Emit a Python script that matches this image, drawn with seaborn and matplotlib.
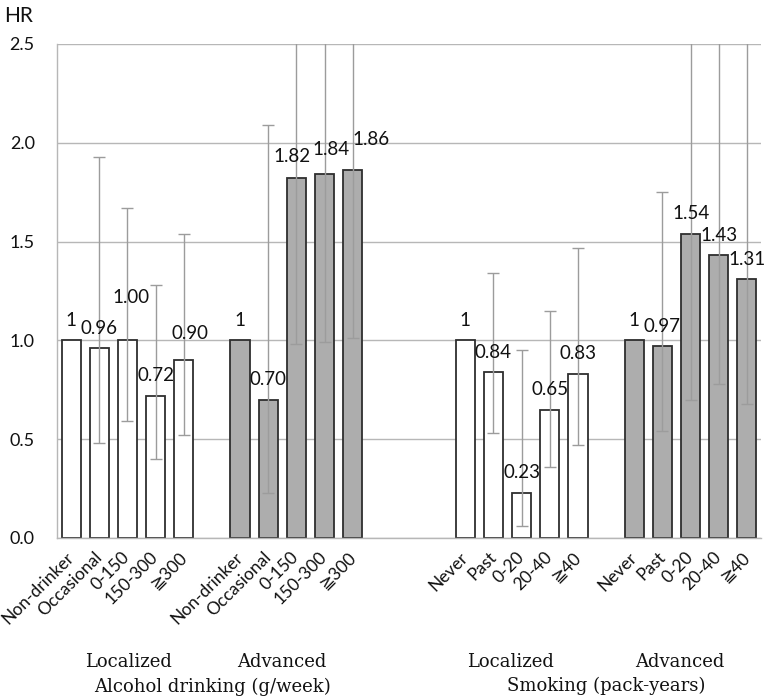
import numpy as np
import pandas as pd
import matplotlib
matplotlib.use("Agg")
import matplotlib.pyplot as plt
import seaborn as sns

# ---------------- data ----------------
alcohol_cats = ["Non-drinker", "Occasional", "0-150", "150-300", "≧300"]
smoking_cats = ["Never", "Past", "0-20", "20-40", "≧40"]

alc_loc_hr = [1.00, 0.96, 1.00, 0.72, 0.90]
alc_loc_lo = [np.nan, 0.48, 0.59, 0.40, 0.52]
alc_loc_hi = [np.nan, 1.93, 1.67, 1.28, 1.54]
alc_loc_txt = ["1", "0.96", "1.00", "0.72", "0.90"]

alc_adv_hr = [1.00, 0.70, 1.82, 1.84, 1.86]
alc_adv_lo = [np.nan, 0.23, 0.98, 0.99, 1.01]
alc_adv_hi = [np.nan, 2.09, 3.38, 3.42, 3.43]
alc_adv_txt = ["1", "0.70", "1.82", "1.84", "1.86"]

smk_loc_hr = [1.00, 0.84, 0.23, 0.65, 0.83]
smk_loc_lo = [np.nan, 0.53, 0.06, 0.36, 0.47]
smk_loc_hi = [np.nan, 1.34, 0.95, 1.15, 1.47]
smk_loc_txt = ["1", "0.84", "0.23", "0.65", "0.83"]

smk_adv_hr = [1.00, 0.97, 1.54, 1.43, 1.31]
smk_adv_lo = [np.nan, 0.54, 0.70, 0.78, 0.68]
smk_adv_hi = [np.nan, 1.75, 3.39, 2.62, 2.52]
smk_adv_txt = ["1", "0.97", "1.54", "1.43", "1.31"]

y_ticks = [0.0, 0.5, 1.0, 1.5, 2.0, 2.5]
y_tick_labels = ["0.0", "0.5", "1.0", "1.5", "2.0", "2.5"]

# ---------------- build table ----------------
groups = [
    ("Alcohol", "Localized", alcohol_cats, alc_loc_hr, alc_loc_lo, alc_loc_hi, alc_loc_txt),
    ("Alcohol", "Advanced", alcohol_cats, alc_adv_hr, alc_adv_lo, alc_adv_hi, alc_adv_txt),
    ("Smoking", "Localized", smoking_cats, smk_loc_hr, smk_loc_lo, smk_loc_hi, smk_loc_txt),
    ("Smoking", "Advanced", smoking_cats, smk_adv_hr, smk_adv_lo, smk_adv_hi, smk_adv_txt),
]
gaps_after = [1, 3, 1, 0]  # empty category slots after each group

rows = []
order = []
tick_labels = []
gap_id = 0
for (expo, stage, cats, hr, lo, hi, txt), ngap in zip(groups, gaps_after):
    for c, h, l, u, t in zip(cats, hr, lo, hi, txt):
        key = f"{expo}|{stage}|{c}"
        rows.append(dict(key=key, stage=stage, cat=c, hr=h, lo=l, hi=u, txt=t))
        order.append(key)
        tick_labels.append(c)
    for _ in range(ngap):
        order.append(f"gap{gap_id}")
        tick_labels.append("")
        gap_id += 1
df = pd.DataFrame(rows)
df["pos"] = [order.index(k) for k in df["key"]]

# ---------------- style ----------------
sns.set_style("white")
plt.rcParams["font.family"] = ["Lato", "DejaVu Sans"]
GRID = "#b7b7b7"
TXT = "#111111"

fig = plt.figure(figsize=(7.79, 6.97), dpi=100)
ax = fig.add_axes([57 / 779, 1 - 538 / 697, (761 - 57) / 779, (538 - 44) / 697])

sns.barplot(
    data=df, x="key", y="hr", hue="stage", order=order,
    palette={"Localized": "#ffffff", "Advanced": "#adadad"},
    dodge=False, width=0.68, saturation=1, errorbar=None, legend=False,
    edgecolor="#2e2e2e", linewidth=1.3, ax=ax, zorder=2,
)

# confidence intervals
ax.errorbar(
    df["pos"], df["hr"],
    yerr=[df["hr"] - df["lo"], df["hi"] - df["hr"]],
    fmt="none", ecolor="#9c9c9c", elinewidth=1.0, capsize=4.5, capthick=1.0,
    zorder=3,
)

# value labels (default 20 px above bar top; a few were moved by hand in the original)
label_shift_px = {
    "Alcohol|Localized|0-150": (4, 23),
    "Alcohol|Localized|≧300": (6, 7),
    "Alcohol|Advanced|0-150": (-4, 2),
    "Alcohol|Advanced|150-300": (6, 5),
    "Alcohol|Advanced|≧300": (18, 11),
}
for _, r in df.iterrows():
    dx, dy = label_shift_px.get(r["key"], (0, 0))
    ax.annotate(
        r["txt"], (r["pos"], r["hr"]),
        xytext=(dx * 0.72, (20 + dy) * 0.72), textcoords="offset points",
        ha="center", va="center", fontsize=13.5, color=TXT, zorder=4,
    )

# axes cosmetics
ax.set_ylim(0, 2.5)
ax.set_xlim(-0.5, len(order) - 0.5)
ax.set_yticks(y_ticks)
ax.set_yticklabels(y_tick_labels)
ax.yaxis.grid(True, color=GRID, linewidth=1.0)
ax.set_axisbelow(True)
ax.set_xlabel("")
ax.set_ylabel("")
for s in ["top", "right"]:
    ax.spines[s].set_visible(False)
for s in ["left", "bottom"]:
    ax.spines[s].set_color(GRID)
    ax.spines[s].set_linewidth(1.0)

ax.tick_params(axis="y", length=0, pad=16, labelsize=13, labelcolor=TXT)
ax.set_xticks(range(len(order)))
ax.set_xticklabels(tick_labels, rotation=45, ha="right", va="center",
                   rotation_mode="anchor", fontsize=12.5, color=TXT)
ax.tick_params(axis="x", which="major", length=0, pad=12)
ax.set_xticks(np.arange(-0.5, len(order), 1.0), minor=True)
ax.tick_params(axis="x", which="minor", length=6, width=1.0, color=GRID, direction="out")

# titles
fig.text(4 / 779, 1 - 16 / 697, "HR", fontsize=15, ha="left", va="center", color=TXT)
serif = dict(family="DejaVu Serif", fontsize=13, ha="center", va="center", color=TXT)
fig.text(128 / 779, 1 - 662 / 697, "Localized", **serif)
fig.text(282 / 779, 1 - 662 / 697, "Advanced", **serif)
fig.text(212 / 779, 1 - 687 / 697, "Alcohol drinking (g/week)", **serif)
fig.text(510 / 779, 1 - 662 / 697, "Localized", **serif)
fig.text(680 / 779, 1 - 662 / 697, "Advanced", **serif)
fig.text(606 / 779, 1 - 686 / 697, "Smoking (pack-years)", **serif)

fig.savefig("out.png", dpi=100, facecolor="white")
